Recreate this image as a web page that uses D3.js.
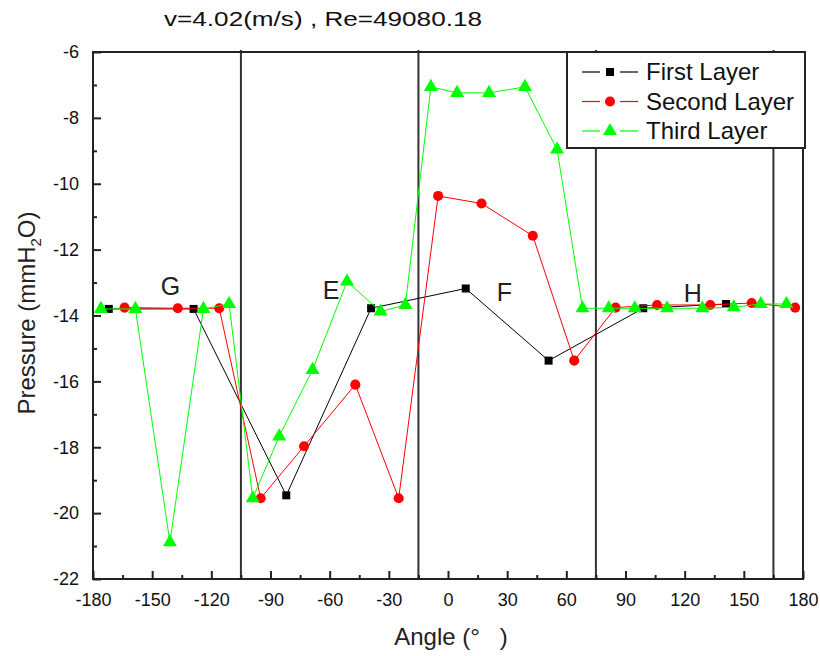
<!DOCTYPE html>
<html>
<head>
<meta charset="utf-8">
<script src="https://cdn.jsdelivr.net/npm/d3@7"></script>
<style>
body { margin: 0; background: #fff; }
text { font-family: "Liberation Sans", Arial, sans-serif; }
</style>
</head>
<body>
<svg id="chart" width="820" height="656"></svg>
<script>
// angles (deg) and pressure (mmH2O)
var firstAngles = [-172, -129, -82, -39, 9, 51, 99, 141];
var firstValues = [-13.8, -13.8, -19.46, -13.78, -13.18, -15.37, -13.78, -13.65];

var secondAngles = [-164, -137, -116, -95, -73, -47, -25, -5, 17, 43, 64, 85, 106, 133, 154, 176];
var secondValues = [-13.76, -13.78, -13.78, -19.55, -17.97, -16.1, -19.55, -10.37, -10.6, -11.58, -15.37, -13.76, -13.68, -13.68, -13.62, -13.76];

var thirdAngles = [-176, -158.5, -141, -124, -111, -99, -85.6, -68.7, -51.2, -34.2, -21.6, -8.7, 4.6, 20.8, 39, 55.3, 68.2, 81.5, 94.7, 111.1, 129, 144.9, 158.6, 171.6];
var thirdValues = [-13.8, -13.8, -20.88, -13.8, -13.65, -19.55, -17.67, -15.65, -12.97, -13.88, -13.68, -7.06, -7.24, -7.24, -7.06, -8.96, -13.78, -13.78, -13.78, -13.78, -13.78, -13.75, -13.65, -13.65];

var seriesNames = ["First Layer", "Second Layer", "Third Layer"];
var seriesColors = ["#000000", "#ff0000", "#00ff00"];

var xTicks = [-180, -150, -120, -90, -60, -30, 0, 30, 60, 90, 120, 150, 180];
var yTicks = [-22, -20, -18, -16, -14, -12, -10, -8, -6];
var dividers = [-105, -15, 75, 165];
var regionLabels = [
    {name: "G", angle: -145.6, value: -13.37},
    {name: "E", angle: -63.5, value: -13.5},
    {name: "F", angle: 24.7, value: -13.55},
    {name: "H", angle: 119.5, value: -13.6}
];

var svg = d3.select("#chart");
var plotLeft = 93, plotRight = 803, plotTop = 52, plotBottom = 579;

var x = d3.scaleLinear().domain([-180, 180]).range([plotLeft, plotRight]);
var y = d3.scaleLinear().domain([-22, -6]).range([plotBottom, plotTop]);

var frameColor = "#222";
var plain = function(d) { return String(d); };

// divider lines
svg.selectAll(".divider")
    .data(dividers)
    .enter().append("line")
    .attr("x1", function(d) { return x(d); })
    .attr("x2", function(d) { return x(d); })
    .attr("y1", plotTop - 2)
    .attr("y2", plotBottom)
    .attr("stroke", "#333")
    .attr("stroke-width", 2);

// frame
svg.append("rect")
    .attr("x", plotLeft).attr("y", plotTop)
    .attr("width", plotRight - plotLeft).attr("height", plotBottom - plotTop)
    .attr("fill", "none")
    .attr("stroke", frameColor)
    .attr("stroke-width", 2);

// axes, ticks pointing inward
var xAxis = d3.axisBottom(x).tickValues(xTicks).tickSize(-8).tickPadding(14).tickFormat(plain);
var xMinor = d3.axisBottom(x).tickValues(d3.range(-165, 180, 30)).tickSize(-4).tickFormat("");
var yAxis = d3.axisLeft(y).tickValues(yTicks).tickSize(-8).tickPadding(14).tickFormat(plain);
var yMinor = d3.axisLeft(y).tickValues(d3.range(-21, -6, 2)).tickSize(-4).tickFormat("");

function styleAxis(g) {
    g.select(".domain").remove();
    g.selectAll("line").attr("stroke", frameColor).attr("stroke-width", 2);
    g.selectAll("text")
        .attr("fill", "#111")
        .style("font-family", "'Liberation Sans', Arial, sans-serif")
        .style("font-size", "18px");
}

svg.append("g").attr("transform", "translate(0," + plotBottom + ")").call(xAxis).call(styleAxis);
svg.append("g").attr("transform", "translate(0," + plotBottom + ")").call(xMinor).call(styleAxis);
svg.append("g").attr("transform", "translate(" + plotLeft + ",0)").call(yAxis).call(styleAxis);
svg.append("g").attr("transform", "translate(" + plotLeft + ",0)").call(yMinor).call(styleAxis);

// series
var series = [
    {angles: firstAngles, values: firstValues, symbol: d3.symbolSquare, size: 64},
    {angles: secondAngles, values: secondValues, symbol: d3.symbolCircle, size: 80},
    {angles: thirdAngles, values: thirdValues, symbol: d3.symbolTriangle, size: 85}
];

var line = d3.line()
    .x(function(d) { return x(d[0]); })
    .y(function(d) { return y(d[1]); });

series.forEach(function(s, i) {
    var pts = s.angles.map(function(a, j) { return [a, s.values[j]]; });
    svg.append("path")
        .datum(pts)
        .attr("d", line)
        .attr("fill", "none")
        .attr("stroke", seriesColors[i])
        .attr("stroke-width", 1);
    svg.selectAll(".m" + i)
        .data(pts)
        .enter().append("path")
        .attr("class", "m" + i)
        .attr("transform", function(d) { return "translate(" + x(d[0]) + "," + y(d[1]) + ")"; })
        .attr("d", d3.symbol().type(s.symbol).size(s.size))
        .attr("fill", seriesColors[i]);
});

// region letters
svg.selectAll(".region")
    .data(regionLabels)
    .enter().append("text")
    .attr("x", function(d) { return x(d.angle); })
    .attr("y", function(d) { return y(d.value); })
    .attr("font-size", 25)
    .attr("fill", "#222")
    .text(function(d) { return d.name; });

// legend
var legend = svg.append("g").attr("transform", "translate(567,52)");
legend.append("rect")
    .attr("width", 238).attr("height", 96)
    .attr("fill", "#fff")
    .attr("stroke", frameColor)
    .attr("stroke-width", 2);
var rows = legend.selectAll(".row")
    .data(seriesNames)
    .enter().append("g")
    .attr("transform", function(d, i) { return "translate(0," + (20 + i * 29.5) + ")"; });
rows.append("line").attr("x1", 15).attr("x2", 33).attr("stroke", function(d, i) { return seriesColors[i]; }).attr("stroke-width", 1.2);
rows.append("line").attr("x1", 53).attr("x2", 71).attr("stroke", function(d, i) { return seriesColors[i]; }).attr("stroke-width", 1.2);
rows.append("path")
    .attr("transform", "translate(43,0)")
    .attr("d", function(d, i) { return d3.symbol().type(series[i].symbol).size(series[i].size)(); })
    .attr("fill", function(d, i) { return seriesColors[i]; });
rows.append("text")
    .attr("x", 79)
    .attr("y", 8)
    .attr("font-size", 24)
    .attr("fill", "#111")
    .text(function(d) { return d; });

// titles
svg.append("text")
    .attr("x", 323).attr("y", 26)
    .attr("text-anchor", "middle")
    .attr("font-size", 20)
    .attr("textLength", 318)
    .attr("lengthAdjust", "spacingAndGlyphs")
    .attr("fill", "#111")
    .text("v=4.02(m/s) , Re=49080.18");

svg.append("text")
    .attr("x", 451).attr("y", 645)
    .attr("text-anchor", "middle")
    .attr("font-size", 24)
    .attr("fill", "#222")
    .style("white-space", "pre")
    .text("Angle (°   )");

var yTitle = svg.append("text")
    .attr("transform", "translate(35,313) rotate(-90)")
    .attr("text-anchor", "middle")
    .attr("font-size", 24)
    .attr("fill", "#222");
yTitle.append("tspan").text("Pressure (mmH");
yTitle.append("tspan").attr("font-size", 15).attr("dy", 6).text("2");
yTitle.append("tspan").attr("dy", -6).text("O)");
</script>
</body>
</html>
